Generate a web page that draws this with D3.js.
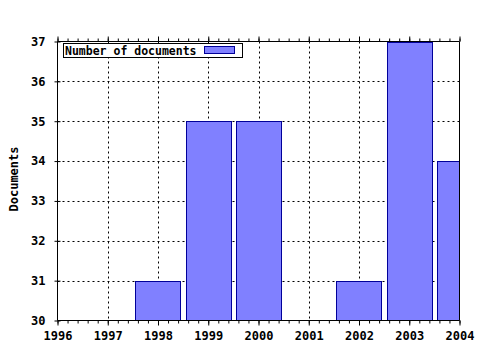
<!DOCTYPE html>
<html>
<head>
<meta charset="utf-8">
<script src="https://cdn.jsdelivr.net/npm/d3@7"></script>
<style>
body { margin: 0; background: #fff; }
text { font-family: "DejaVu Sans Mono", monospace; font-weight: bold; font-size: 12px; fill: #000; }
</style>
</head>
<body>
<script>
var years = [1998, 1999, 2000, 2002, 2003, 2004];
var docs = [31, 35, 35, 31, 37, 34];
var xTicks = [1996, 1997, 1998, 1999, 2000, 2001, 2002, 2003, 2004];
var yTicks = [30, 31, 32, 33, 34, 35, 36, 37];

var svg = d3.select('body').append('svg').attr('width', 480).attr('height', 350);
var pL = 57.5, pT = 41.5, pR = 459.5, pB = 320.5;

var x = d3.scaleLinear().domain([1996, 2004]).range([pL, pR]);
var y = d3.scaleLinear().domain([30, 37]).range([pB, pT]);

svg.append('clipPath').attr('id', 'plot').append('rect')
  .attr('x', pL).attr('y', pT).attr('width', pR - pL).attr('height', pB - pT);

// grid
var grid = svg.append('g').attr('stroke', '#000').attr('stroke-dasharray', '2,3').attr('stroke-width', 1);
grid.selectAll('.gx').data(xTicks.slice(1, -1)).enter().append('line')
  .attr('x1', function (d) { return Math.round(x(d)) + 0.5; })
  .attr('x2', function (d) { return Math.round(x(d)) + 0.5; })
  .attr('y1', pT).attr('y2', pB);
grid.selectAll('.gy').data(yTicks.slice(1, -1)).enter().append('line')
  .attr('y1', function (d) { return Math.round(y(d)) + 0.5; })
  .attr('y2', function (d) { return Math.round(y(d)) + 0.5; })
  .attr('x1', pL).attr('x2', pR);

// bars
var bw = (x(1997) - x(1996)) * 0.9;
svg.append('g').attr('clip-path', 'url(#plot)')
  .selectAll('rect').data(years).enter().append('rect')
  .attr('x', function (d) { return Math.round(x(d) - bw / 2) + 0.5; })
  .attr('y', function (d, i) { return Math.round(y(docs[i])) + 0.5; })
  .attr('width', Math.round(bw))
  .attr('height', function (d, i) { return Math.round(y(30) - y(docs[i])); })
  .attr('fill', '#8080ff').attr('stroke', '#000099').attr('stroke-width', 1);

// axes
var minor = d3.range(1996, 2004.01, 0.2);
var xb = svg.append('g').attr('transform', 'translate(0,' + pB + ')')
  .call(d3.axisBottom(x).tickValues(minor).tickSize(3).tickFormat(''));
xb.select('.domain').remove();
var xB = svg.append('g').attr('transform', 'translate(0,' + pB + ')')
  .call(d3.axisBottom(x).tickValues(xTicks).tickSize(5).tickPadding(6).tickFormat(d3.format('d')));
xB.select('.domain').attr('d', 'M' + pL + ',0H' + pR);

var xt = svg.append('g').attr('transform', 'translate(0,' + pT + ')')
  .call(d3.axisTop(x).tickValues(minor).tickSize(3).tickFormat(''));
xt.select('.domain').remove();
var xT = svg.append('g').attr('transform', 'translate(0,' + pT + ')')
  .call(d3.axisTop(x).tickValues(xTicks).tickSize(5).tickFormat(''));
xT.select('.domain').attr('d', 'M' + pL + ',0H' + pR);

var yA = svg.append('g').attr('transform', 'translate(' + pL + ',0)')
  .call(d3.axisLeft(y).tickValues(yTicks).tickSize(3).tickPadding(9).tickFormat(d3.format('d')));
yA.select('.domain').attr('d', 'M0,' + pT + 'V' + pB);
var yR = svg.append('g').attr('transform', 'translate(' + pL + ',0)')
  .call(d3.axisRight(y).tickValues(yTicks).tickSize(3).tickFormat(''));
yR.select('.domain').remove();
svg.append('line').attr('x1', pR).attr('x2', pR).attr('y1', pT).attr('y2', pB).attr('stroke', '#000');

svg.selectAll('.tick text').style('font-family', '"DejaVu Sans Mono", monospace')
  .style('font-weight', 'bold').style('font-size', '12px').attr('fill', '#000');

// y label
svg.append('text').attr('transform', 'translate(18,179) rotate(-90)')
  .attr('text-anchor', 'middle').text('Documents');

// legend
var lg = svg.append('g');
lg.append('rect').attr('x', 63.5).attr('y', 43.5).attr('width', 179).attr('height', 14)
  .attr('fill', '#fff').attr('stroke', '#000');
lg.append('text').attr('x', 65).attr('y', 55).style('font-size', '11.5px').text('Number of documents');
lg.append('rect').attr('x', 204.5).attr('y', 46.5).attr('width', 30).attr('height', 7)
  .attr('fill', '#8080ff').attr('stroke', '#000099');
</script>
</body>
</html>
